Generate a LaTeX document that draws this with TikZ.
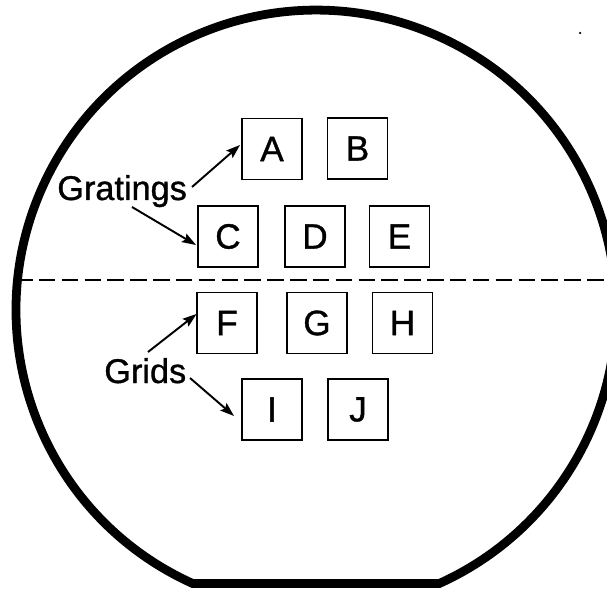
\documentclass[tikz,border=0pt]{standalone}
\usepackage{fontspec}
\setmainfont{Liberation Sans}
\newfontfamily\heavysans[FakeBold=1.0]{Liberation Sans}
\usetikzlibrary{arrows.meta,calc}
\begin{document}
\begin{tikzpicture}[x=0.02cm,y=0.02cm,
  box/.style={draw,line width=1.1pt,minimum width=1.2cm,minimum height=1.22cm,inner sep=0pt,font=\heavysans\fontsize{20}{24}\selectfont},
  lbl/.style={inner sep=0pt,anchor=base west,font=\heavysans\fontsize{19.5}{23}\selectfont},
  arr/.style={line width=1.1pt,-{Stealth[length=8pt,width=5.5pt,inset=1.4pt]}},
  wafer/.style={line width=5pt},
  divider/.style={line width=1.7pt,dash pattern=on 9.4pt off 3.6pt}]
\useasboundingbox (0,0) rectangle (607,588);
\clip (0,0) rectangle (607,588);
% dashed divider
\draw[divider] (16,308) -- (620,308);
% wafer outline with flat
\draw[wafer] (192.7,4.5) arc[start angle=245.73, end angle=-65.73, radius=6cm] -- cycle;
% stray dot
\fill (580,555) circle[radius=0.025cm];
% boxes
\node[box] (A) at (272,439) {A};
\node[box] (B) at (357.5,439.5) {B};
\node[box] (C) at (228,351.5) {C};
\node[box] (D) at (315,351.5) {D};
\node[box] (E) at (399.5,351.5) {E};
\node[box] (F) at (227,265) {F};
\node[box] (G) at (317,265) {G};
\node[box] (H) at (402.5,265) {H};
\node[box] (I) at (272,178.5) {I};
\node[box] (J) at (358,178.5) {J};
% labels
\node[lbl] (gratings) at (57,388) {Gratings};
\node[lbl] (grids) at (104,205) {Grids};
% arrow tails
\coordinate (ta) at (192,401);
\coordinate (tc) at (132,381);
\coordinate (tf) at (148,236);
\coordinate (ti) at (190,210);
% arrows
\draw[arr] (ta) -- ($(A.west)+(-1,4)$);
\draw[arr] (tc) -- ($(C.west)+(-1,-8.5)$);
\draw[arr] (tf) -- ($(F.west)+(0.5,9)$);
\draw[arr] (ti) -- ($(I.west)+(-7,-6.5)$);
\end{tikzpicture}
\end{document}
